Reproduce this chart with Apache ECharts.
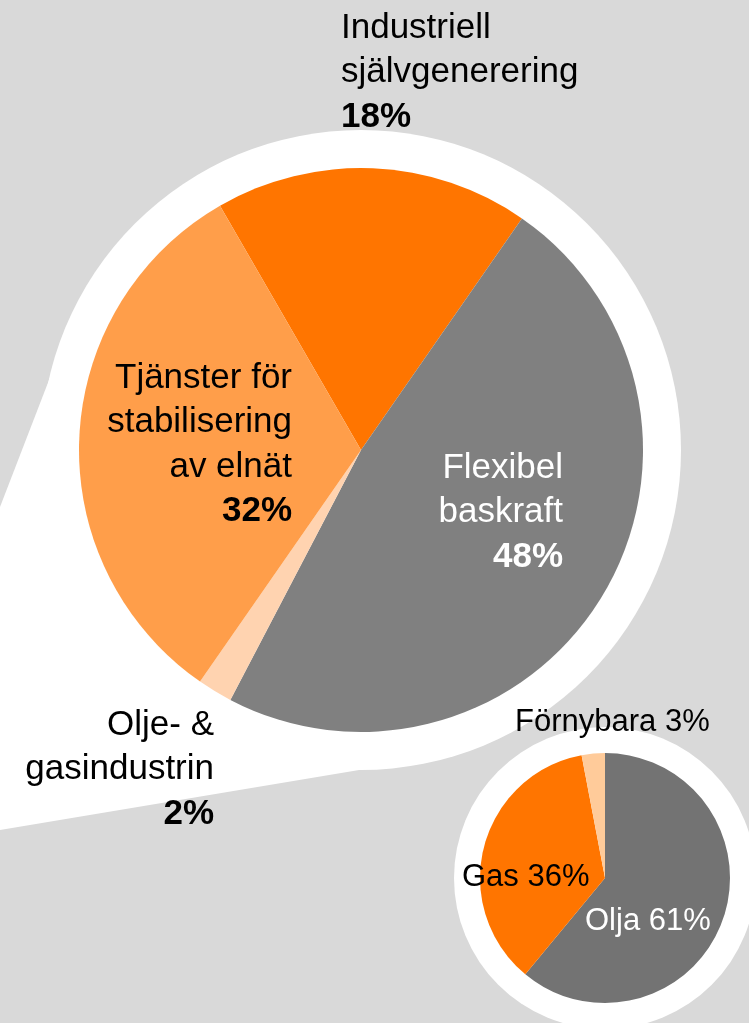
<!DOCTYPE html>
<html>
<head>
<meta charset="utf-8">
<script src="https://cdn.jsdelivr.net/npm/echarts@6/dist/echarts.min.js"></script>
<style>
  html, body { margin: 0; padding: 0; background: #d9d9d9; }
  #chart { width: 749px; height: 1023px; }
</style>
</head>
<body>
<div id="chart"></div>
<script>
// stora cirkeln: användningsområden
const bigNames = ['Industriell\nsjälvgenerering', 'Flexibel\nbaskraft', 'Olje- &\ngasindustrin', 'Tjänster för\nstabilisering\nav elnät']
const bigValues = [18, 48, 2, 32]
const bigColors = ['#ff7500', '#808080', '#ffd3b0', '#ff9e4a']

// lilla cirkeln: bränsle
const smallNames = ['Olja', 'Gas', 'Förnybara']
const smallValues = [61, 36, 3]
const smallColors = ['#737373', '#ff7500', '#ffcb9a']

// etikettpositioner (x, y, align)
const bigLabelPos = [
  [341, 6, 'left'],
  [563, 446, 'right'],
  [214, 703, 'right'],
  [292, 356, 'right']
]
const smallLabelPos = [
  [585, 921, 'left'],
  [462, 877, 'left'],
  [515, 722, 'left']
]

const FONT = '"Liberation Sans", Arial, sans-serif'
const chart = echarts.init(document.getElementById('chart'))

const bigData = bigNames.map((n, i) => ({
  name: n,
  value: bigValues[i],
  itemStyle: { color: bigColors[i] },
  label: { color: i === 1 ? '#ffffff' : '#000000' }
}))
const smallData = smallNames.map((n, i) => ({
  name: n,
  value: smallValues[i],
  itemStyle: { color: smallColors[i] },
  label: { color: i === 0 ? '#ffffff' : '#000000' }
}))

const option = {
  backgroundColor: '#d9d9d9',
  animation: false,
  graphic: [
    {
      type: 'polygon',
      z: 0,
      shape: { points: [[0, 507], [66, 336], [361, 450], [413, 761], [0, 830]] },
      style: { fill: '#ffffff' }
    },
    {
      type: 'circle',
      z: 0,
      shape: { cx: 361, cy: 450, r: 320 },
      style: { fill: '#ffffff' }
    },
    {
      type: 'circle',
      z: 0,
      shape: { cx: 605, cy: 878, r: 151 },
      style: { fill: '#ffffff' }
    }
  ],
  series: [
    {
      type: 'pie',
      center: [361, 450],
      radius: 282,
      startAngle: 120,
      emphasis: { disabled: true },
      itemStyle: { borderWidth: 0 },
      label: {
        position: 'inside',
        fontFamily: FONT,
        formatter: p => `{n|${p.name}}\n{b|${p.value}%}`,
        rich: {
          n: { fontFamily: FONT, fontSize: 35, lineHeight: 44.5 },
          b: { fontFamily: FONT, fontSize: 35, lineHeight: 44.5, fontWeight: 'bold' }
        }
      },
      labelLine: { show: false },
      labelLayout: p => ({
        x: bigLabelPos[p.dataIndex][0],
        y: bigLabelPos[p.dataIndex][1],
        align: bigLabelPos[p.dataIndex][2],
        verticalAlign: 'top'
      }),
      data: bigData
    },
    {
      type: 'pie',
      center: [605, 878],
      radius: 125,
      startAngle: 90,
      emphasis: { disabled: true },
      itemStyle: { borderWidth: 0 },
      label: {
        position: 'inside',
        fontFamily: FONT,
        fontSize: 31,
        formatter: '{b} {c}%'
      },
      labelLine: { show: false },
      labelLayout: p => ({
        x: smallLabelPos[p.dataIndex][0],
        y: smallLabelPos[p.dataIndex][1],
        align: smallLabelPos[p.dataIndex][2],
        verticalAlign: 'middle'
      }),
      data: smallData
    }
  ]
}

chart.setOption(option)
</script>
</body>
</html>
